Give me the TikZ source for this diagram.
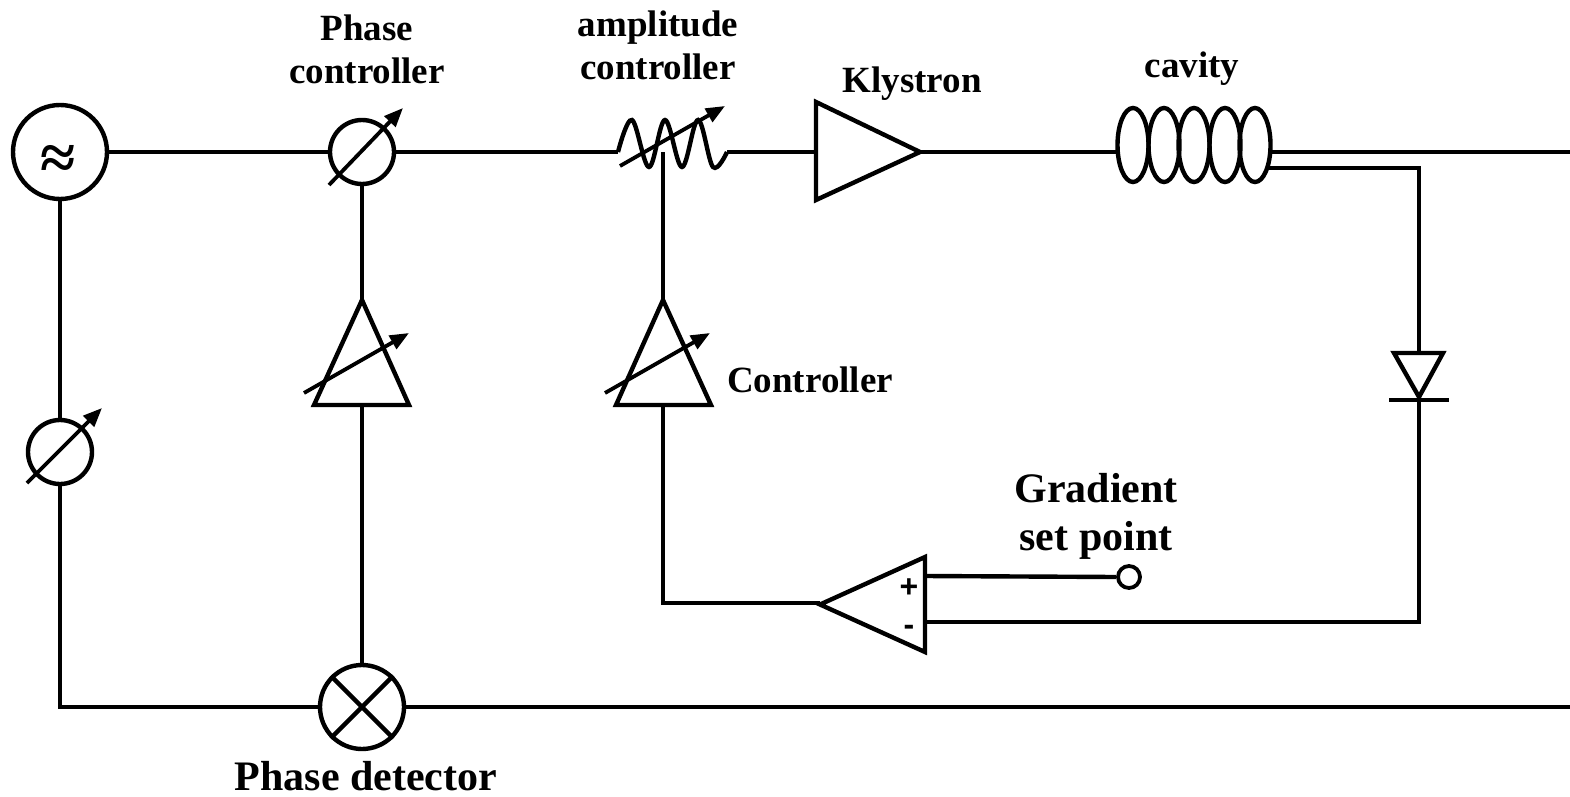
\documentclass[tikz,border=0pt]{standalone}
\usepackage{fontspec}
\setmainfont{Liberation Serif}
\newfontfamily\sansf{Liberation Sans}
\usetikzlibrary{arrows.meta}
\begin{document}
\begin{tikzpicture}[x=1pt,y=-1pt,line width=4.4pt,
  comp/.style={draw,line width=4.4pt,inner sep=0pt,circle},
  adj/.style={-{Triangle[length=19pt,width=15pt]},line width=3.8pt},
  lbl/.style={font=\bfseries\fontsize{37}{42}\selectfont,anchor=base,inner sep=0pt},
  biglbl/.style={font=\bfseries\fontsize{42}{48}\selectfont,anchor=base,inner sep=0pt},
  sgn/.style={font=\sansf\bfseries\fontsize{32}{36}\selectfont,inner sep=0pt}]
\useasboundingbox (0,0) rectangle (1570,797);

% ---- components ----
\node[comp,minimum size=94pt] (src) at (60,152) {};
\node[font=\bfseries\fontsize{64}{70}\selectfont,inner sep=0pt] (srcsym) at (58,162) {≈};
\node[comp,minimum size=64pt] (pc) at (362,152) {};
\draw[adj] (329,185) -- (403,108);
\node[comp,minimum size=64pt] (ps) at (60,452) {};
\draw[adj] (27,483) -- (102,408);
\node[comp,minimum size=84pt] (pd) at (362,707) {};
\draw (pd.north west) -- (pd.south east) (pd.north east) -- (pd.south west);
\node[comp,minimum size=22pt,line width=3.8pt] (sp) at (1129,577) {};

% amplitude controller
\coordinate (ampL) at (618,152);
\coordinate (ampR) at (727,152);
\coordinate (ampM) at (663,152);
\draw plot[smooth,tension=0.6] coordinates {(618,152) (632,120) (649,167) (665,120) (682,167) (698,120) (713,167) (727,152)};
\draw[adj] (620,166) -- (725,106);

% klystron
\coordinate (klyL) at (816,152);
\coordinate (klyT) at (920,152);
\draw (816,102) -- (816,200) -- (920,152) -- cycle;

% cavity
\foreach \cx in {1133,1164,1194,1225,1255} \draw (\cx,145) ellipse (15.5 and 37);
\coordinate (cavL) at (1117,152);
\coordinate (cavR) at (1270,152);
\coordinate (cavR2) at (1267,168);

% phase amplifier (tri1)
\coordinate (t1A) at (362,300);
\coordinate (t1B) at (362,405);
\draw (362,300) -- (409,405) -- (314,405) -- cycle;
\draw[adj] (304,393) -- (409,333);

% controller (tri2)
\coordinate (t2A) at (663,300);
\coordinate (t2B) at (663,405);
\draw (663,300) -- (711,405) -- (616,405) -- cycle;
\draw[adj] (605,393) -- (710,333);

% diode
\coordinate (dT) at (1419,353);
\coordinate (dB) at (1419,400);
\draw (1394,353) -- (1443,353) -- (1419,397) -- cycle;
\draw (1389,400) -- (1449,400);

% op-amp
\coordinate (oOut) at (820,603);
\coordinate (oP) at (925,576);
\coordinate (oM) at (925,622);
\draw (925,557) -- (925,652) -- (820,604.5) -- cycle;
\node[sgn] (plus) at (909,588) {+};
\node[sgn] (minus) at (909,630) {-};

% free ends
\coordinate (endTop) at (1572,152);
\coordinate (endBot) at (1572,707);

% ---- connectors ----
\draw (src.east) -- (pc.west);
\draw (pc.east) -- (ampL);
\draw (ampR) -- (klyL);
\draw (klyT) -- (cavL);
\draw (cavR) -- (endTop);
\draw (cavR2) -- (1419,168) -- (dT);
\draw (dB) -- (1419,622) -- (oM);
\draw (oP) -- (sp.west);
\draw (oOut) -- (663,603) -- (t2B);
\draw (t2A) -- (ampM);
\draw (pc.south) -- (t1A);
\draw (t1B) -- (pd.north);
\draw (src.south) -- (ps.north);
\draw (ps.south) -- (60,707) -- (pd.west);
\draw (pd.east) -- (endBot);

% ---- labels ----
\node[lbl] (l1a) at (367,41) {Phase};
\node[lbl] (l1b) at (367,84) {controller};
\node[lbl] (l2a) at (658,37) {amplitude};
\node[lbl] (l2b) at (658,80) {controller};
\node[lbl] (l3) at (912,93) {Klystron};
\node[lbl] (l4) at (1192,78) {cavity};
\node[lbl,anchor=base west] (l5) at (725,392) {Controller};
\node[biglbl] (l6a) at (1096,502) {Gradient};
\node[biglbl] (l6b) at (1096,550) {set point};
\node[biglbl] (l7) at (366,790) {Phase detector};
\end{tikzpicture}
\end{document}
